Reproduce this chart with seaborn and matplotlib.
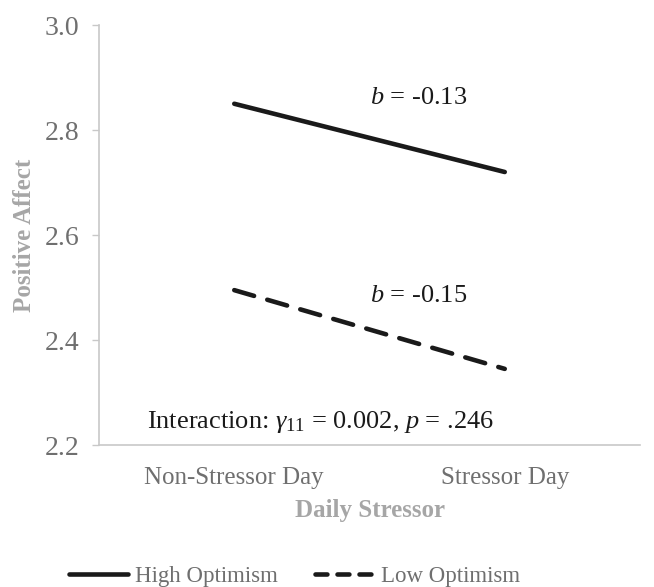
import matplotlib
matplotlib.use("Agg")
import matplotlib.pyplot as plt
import pandas as pd
import seaborn as sns

# values
days = ["Non-Stressor Day", "Stressor Day"]
high_optimism = [2.85, 2.72]
low_optimism = [2.495, 2.345]
groups = ["High Optimism", "Low Optimism"]
slopes = ["-0.13", "-0.15"]
interaction = "0.002"
p_value = ".246"

df = pd.DataFrame({
    "day": days * 2,
    "affect": high_optimism + low_optimism,
    "group": [groups[0]] * 2 + [groups[1]] * 2,
})

sns.set_theme(style="white")
plt.rcParams["font.family"] = ["Liberation Serif", "DejaVu Serif"]
plt.rcParams["mathtext.fontset"] = "custom"
plt.rcParams["mathtext.rm"] = "Liberation Serif"
plt.rcParams["mathtext.it"] = "Liberation Serif:italic"

tick_gray = "#6f6f6f"
title_gray = "#a6a6a6"
spine_gray = "#c8c8c8"

fig = plt.figure(figsize=(6.54, 5.87), dpi=100)
ax = fig.add_axes([0.1514, 0.2419, 0.8272, 0.7155])

sns.lineplot(data=df, x="day", y="affect", hue="group", style="group",
             palette=["#1a1a1a", "#1a1a1a"],
             dashes={groups[0]: "", groups[1]: (4.5, 3)},
             linewidth=3.3, ax=ax, legend=False)
for ln in ax.lines:
    ln.set_solid_capstyle("round")
    ln.set_dash_capstyle("round")

ax.set_xlim(-0.5, 1.5)
ax.set_ylim(2.2, 3.0)
ax.set_yticks([2.2, 2.4, 2.6, 2.8, 3.0])
ax.set_yticklabels([f"{v:.1f}" for v in [2.2, 2.4, 2.6, 2.8, 3.0]])

for side in ["top", "right"]:
    ax.spines[side].set_visible(False)
for side in ["left", "bottom"]:
    ax.spines[side].set_color(spine_gray)
    ax.spines[side].set_linewidth(1.2)

ax.tick_params(axis="y", left=True, length=5, width=1, color=spine_gray,
               labelsize=20, labelcolor=tick_gray, pad=9)
ax.tick_params(axis="x", bottom=False, labelsize=18, labelcolor=tick_gray, pad=10)

ax.set_xlabel("Daily Stressor", fontsize=18, fontweight="bold", color=title_gray, labelpad=7)
ax.set_ylabel("Positive Affect", fontsize=18, fontweight="bold", color=title_gray, labelpad=6)

ax.text(0.683, 2.861, r"$b$ = " + slopes[0], fontsize=19, color="#1a1a1a",
        ha="center", va="center")
ax.text(0.68, 2.484, r"$b$ = " + slopes[1], fontsize=19, color="#1a1a1a",
        ha="center", va="center")
ax.text(-0.323, 2.244,
        r"Interaction: $\gamma_{11}$ = " + interaction + r", $p$ = " + p_value,
        fontsize=19, color="#1a1a1a", ha="left", va="center")

handles = [plt.Line2D([], [], color="#1a1a1a", lw=3.3, solid_capstyle="round"),
           plt.Line2D([], [], color="#1a1a1a", lw=3.3, dashes=(2.6, 2.2),
                      dash_capstyle="round")]
leg = fig.legend(handles, groups, loc="center", bbox_to_anchor=(0.45, 0.018),
                 ncol=2, frameon=False, fontsize=16.5, handlelength=2.6,
                 handletextpad=0.3, columnspacing=1.6)
for t in leg.get_texts():
    t.set_color(tick_gray)

fig.savefig("out.png", dpi=100)
